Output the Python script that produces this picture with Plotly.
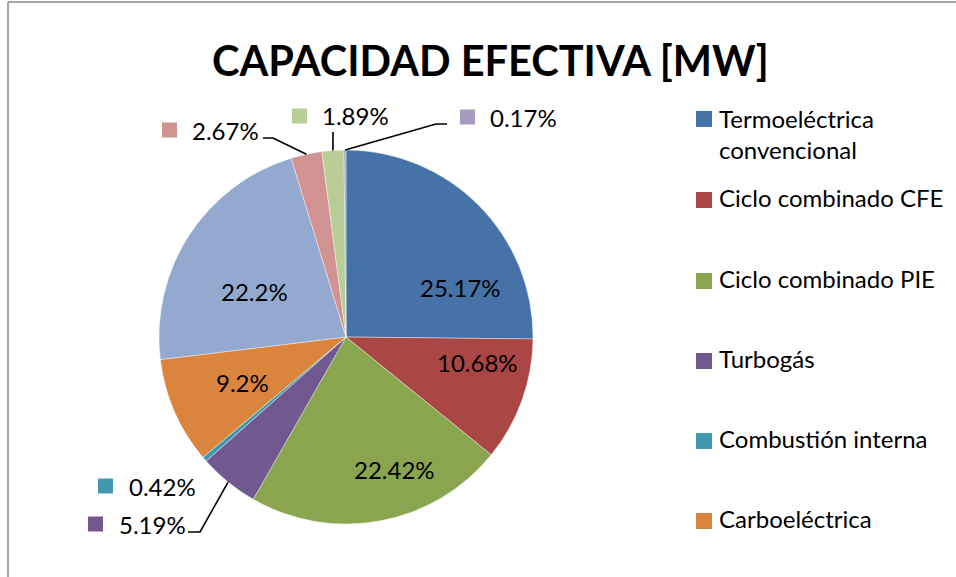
import math
import plotly.graph_objects as go

# ---------------- data ----------------
categories = ["Termoeléctrica convencional", "Ciclo combinado CFE", "Ciclo combinado PIE",
              "Turbogás", "Combustión interna", "Carboeléctrica", "Hidroeléctrica",
              "Nucleoeléctrica", "Geotermoeléctrica", "Eoloeléctrica"]
shares = [25.17, 10.68, 22.42, 5.19, 0.42, 9.2, 22.2, 2.67, 1.89, 0.17]
colors = ["#4572A7", "#AA4643", "#89A54E", "#71588F", "#4198AF", "#DB843D",
          "#93A9CF", "#D19392", "#B9CD96", "#A99BBD"]
legend_labels = ["Termoeléctrica<br>convencional", "Ciclo combinado CFE", "Ciclo combinado PIE",
                 "Turbogás", "Combustión interna", "Carboeléctrica"]
title_text = "CAPACIDAD EFECTIVA [MW]"

# ---------------- layout constants (pixels) ----------------
W, H = 956, 577
CX, CY, R = 346, 337, 187
FONT = "Lato"
FS = 24

def px(x):
    return x / W

def py(y):
    return 1 - y / H

def fmt(v):
    return f"{v:g}%"

# label placement for slices labelled inside the pie (label centre, px)
inside_pos = {0: (460, 287), 1: (477, 362), 2: (394, 469), 5: (242, 383), 6: (254, 291)}

# labels drawn outside with leader lines
outside = {
    7: dict(sq_x=162, y=130, tx=190, lead=[(263, 138), (273, 138)]),
    8: dict(sq_x=292, y=116, tx=320, lead=[(333, 132)]),
    9: dict(sq_x=460, y=117, tx=488, lead=[(447, 124), (436, 124)]),
    4: dict(sq_x=98, y=486, tx=127, lead=None),
    3: dict(sq_x=88, y=524, tx=117, lead=[(188, 532), (200, 532)]),
}

total = sum(shares)

fig = go.Figure()
fig.add_trace(go.Pie(
    labels=categories,
    values=shares,
    sort=False,
    direction="clockwise",
    rotation=0,
    textinfo="none",
    marker=dict(colors=colors, line=dict(color="rgba(255,255,255,0.5)", width=0.8)),
    domain=dict(x=[px(CX - R), px(CX + R)], y=[py(CY + R), py(CY - R)]),
    showlegend=False,
    hoverinfo="label+percent",
))

shapes = []
annotations = []

# frame lines
shapes.append(dict(type="line", xref="paper", yref="paper", x0=px(8), x1=px(8), y0=py(2), y1=0,
                   line=dict(color="#888888", width=1.5)))
shapes.append(dict(type="line", xref="paper", yref="paper", x0=px(8), x1=1, y0=py(2), y1=py(2),
                   line=dict(color="#888888", width=1.5)))

# title
annotations.append(dict(text=f"<b>{title_text}</b>", x=px(490), y=py(60), xref="paper", yref="paper",
                        xanchor="center", yanchor="middle", showarrow=False,
                        font=dict(family=FONT, size=41.5, color="black")))

# inside labels
for i, (x, y) in inside_pos.items():
    annotations.append(dict(text=fmt(shares[i]), x=px(x), y=py(y), xref="paper", yref="paper",
                            xanchor="center", yanchor="middle", showarrow=False,
                            font=dict(family=FONT, size=FS, color="black")))

# outside labels with leader lines
cum = 0.0
mids = []
for v in shares:
    mids.append(360.0 * (cum + v / 2) / total)
    cum += v

for i, spec in outside.items():
    sq = 15
    shapes.append(dict(type="rect", xref="paper", yref="paper",
                       x0=px(spec["sq_x"]), x1=px(spec["sq_x"] + sq),
                       y0=py(spec["y"] - sq / 2), y1=py(spec["y"] + sq / 2),
                       fillcolor=colors[i], line=dict(width=0)))
    annotations.append(dict(text=fmt(shares[i]), x=px(spec["tx"]), y=py(spec["y"]),
                            xref="paper", yref="paper", xanchor="left", yanchor="middle",
                            showarrow=False, font=dict(family=FONT, size=FS, color="black")))
    if spec["lead"]:
        th = math.radians(mids[i])
        ex, ey = CX + R * math.sin(th), CY - R * math.cos(th)
        pts = spec["lead"] + [(ex, ey)]
        path = "M " + " L ".join(f"{px(x):.5f},{py(y):.5f}" for x, y in pts)
        shapes.append(dict(type="path", xref="paper", yref="paper", path=path,
                           line=dict(color="black", width=1.6)))

# legend (first six entries, as in the reference)
leg_sq_x = 696
leg_tx = 717
leg_base = [127, 208, 289, 369, 449, 529]
LINE = 33
for i, lab in enumerate(legend_labels):
    b = leg_base[i]
    nlines = lab.count("<br>") + 1
    shapes.append(dict(type="rect", xref="paper", yref="paper",
                       x0=px(leg_sq_x), x1=px(leg_sq_x + 16), y0=py(b), y1=py(b - 16),
                       fillcolor=colors[i], line=dict(width=0)))
    annotations.append(dict(text=lab, x=px(leg_tx), y=py(b + 6 + LINE * (nlines - 1)),
                            xref="paper", yref="paper",
                            xanchor="left", yanchor="bottom", align="left", showarrow=False,
                            font=dict(family=FONT, size=FS, color="black")))

fig.update_layout(
    width=W, height=H,
    margin=dict(l=0, r=0, t=0, b=0),
    paper_bgcolor="white",
    plot_bgcolor="white",
    shapes=shapes,
    annotations=annotations,
)

fig.write_html("out.html", config={"displayModeBar": False},
               post_script="document.body.style.margin='0px';")
